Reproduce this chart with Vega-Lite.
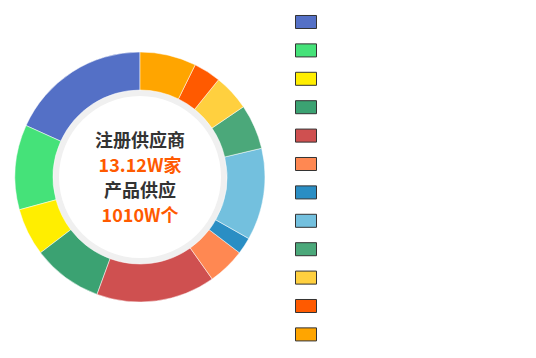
{
  "$schema": "https://vega.github.io/schema/vega-lite/v6.json",
  "width": 280,
  "height": 354,
  "padding": 0,
  "background": "white",
  "config": {"view": {"stroke": null}},
  "layer": [
    {
      "data": {"values": [{"ring": "inner"}]},
      "mark": {"type": "arc", "innerRadius": 81, "outerRadius": 88, "theta": 0, "theta2": 6.2832, "color": "#f0f0f0"},
      "encoding": {}
    },
    {
      "data": {"values": [
        {"name": "类别1", "idx": 1, "value": 65.7},
        {"name": "类别2", "idx": 2, "value": 39.5},
        {"name": "类别3", "idx": 3, "value": 22.1},
        {"name": "类别4", "idx": 4, "value": 32.6},
        {"name": "类别5", "idx": 5, "value": 55.4},
        {"name": "类别6", "idx": 6, "value": 17.4},
        {"name": "类别7", "idx": 7, "value": 7.8},
        {"name": "类别8", "idx": 8, "value": 42.8},
        {"name": "类别9", "idx": 9, "value": 20.9},
        {"name": "类别10", "idx": 10, "value": 16.9},
        {"name": "类别11", "idx": 11, "value": 12.7},
        {"name": "类别12", "idx": 12, "value": 26.2}
      ]},
      "mark": {"type": "arc", "innerRadius": 87, "outerRadius": 125, "stroke": "#ffffff", "strokeWidth": 0.5},
      "encoding": {
        "theta": {"field": "value", "type": "quantitative", "stack": true},
        "order": {"field": "idx", "type": "quantitative", "sort": "descending"},
        "color": {
          "field": "name",
          "type": "nominal",
          "scale": {
            "domain": ["类别1", "类别2", "类别3", "类别4", "类别5", "类别6", "类别7", "类别8", "类别9", "类别10", "类别11", "类别12"],
            "range": ["#5470c6", "#45e279", "#ffee00", "#3ba272", "#cf5050", "#ff8852", "#2a8ec4", "#73c0de", "#4ba87a", "#ffd03f", "#ff5a00", "#ffa500"]
          },
          "legend": {
            "orient": "none",
            "legendX": 295,
            "legendY": 11,
            "title": null,
            "symbolType": "M-1,-0.62H1V0.62H-1Z",
            "symbolSize": 441,
            "symbolStrokeColor": "#333333",
            "symbolStrokeWidth": 1,
            "symbolOpacity": 1,
            "rowPadding": 8.4,
            "labelExpr": "''",
            "padding": 0
          }
        }
      }
    },
    {
      "data": {"values": [
        {"row": 1, "t": "注册供应商", "kind": "label"},
        {"row": 2, "t": "13.12W家", "kind": "value"},
        {"row": 3, "t": "产品供应", "kind": "label"},
        {"row": 4, "t": "1010W个", "kind": "value"}
      ]},
      "mark": {"type": "text", "font": "Noto Sans CJK SC", "fontWeight": "bold", "fontSize": 18},
      "encoding": {
        "y": {"field": "row", "type": "ordinal", "scale": {"type": "point", "range": [142, 217], "padding": 0}, "axis": null},
        "text": {"field": "t"},
        "color": {"field": "kind", "type": "nominal", "scale": {"domain": ["label", "value"], "range": ["#333333", "#ff5a00"]}, "legend": null}
      }
    }
  ],
  "resolve": {"scale": {"color": "independent"}}
}
